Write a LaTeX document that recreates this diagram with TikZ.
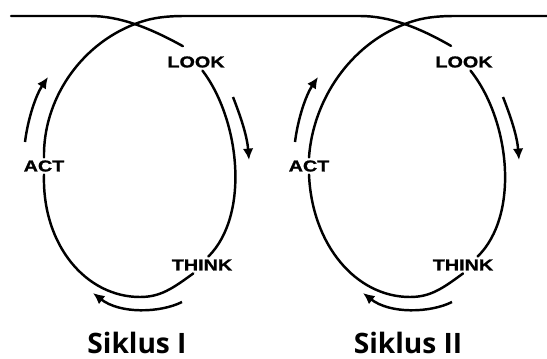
\documentclass[tikz,border=0pt]{standalone}
\usepackage{fontspec}
\newfontfamily\stepfont[FakeStretch=1.25,FakeBold=1.2,UprightFont={* Bold}]{Liberation Sans}
\newfontfamily\cyclefont{Open Sans}
\usetikzlibrary{arrows.meta}

\begin{document}
\begin{tikzpicture}[
    x=0.02cm, y=-0.02cm,
    loopline/.style = {
        line width=1.4pt,
        line cap=round
    },
    steplabel/.style = {
        inner sep=0pt,
        outer sep=0.06cm,
        font=\stepfont\fontsize{9}{9}\selectfont
    },
    turnarrow/.style = {
        line width=1.4pt,
        -{Latex[length=6.5pt, width=6pt]}
    },
    cyclename/.style = {
        anchor=base,
        inner sep=0pt,
        font=\cyclefont\bfseries\fontsize{16}{16}\selectfont
    }
]

\useasboundingbox (0,0) rectangle (547,358);

% --- Siklus I ---
\node[steplabel] (look1) at (196,62) {LOOK};
\node[steplabel] (think1) at (202,265) {THINK};
\node[steplabel] (act1) at (44,166) {ACT};
\node[cyclename] (siklus1) at (137,353) {Siklus I};

% --- Siklus II ---
\node[steplabel] (look2) at (464,62) {LOOK};
\node[steplabel] (think2) at (463,265) {THINK};
\node[steplabel] (act2) at (309,166) {ACT};
\node[cyclename] (siklus2) at (408,353) {Siklus II};

% --- Ends of the line ---
\coordinate (lineStart) at (11,16);
\coordinate (lineEnd) at (547,16);

% --- Loop I ---
\draw[loopline, shorten >=0.3cm] (lineStart) -- (90,16)
    .. controls (120,16) and (150,28) .. (look1.north);
\draw[loopline] (look1.-53) .. controls (240,120) and (250,215) .. (think1.53);
\draw[loopline] (think1.224) .. controls (172,289) and (160,297) .. (140,297)
    .. controls (86,297) and (42,245) .. (act1.south);

% --- Crossing into loop II ---
\draw[loopline, shorten >=0.3cm] (act1.north) .. controls (43,100) and (80,45) .. (135,24)
    .. controls (150,18) and (165,16) .. (185,16) -- (360,16)
    .. controls (390,16) and (420,28) .. (look2.north);

% --- Loop II ---
\draw[loopline] (look2.-53) .. controls (510,120) and (520,215) .. (think2.30);
\draw[loopline] (think2.south) .. controls (442,289) and (430,297) .. (410,297)
    .. controls (356,297) and (312,245) .. (act2.south);
\draw[loopline] (act2.north) .. controls (313,100) and (350,45) .. (405,24)
    .. controls (420,18) and (435,16) .. (455,16) -- (lineEnd);

% --- Arrows along the cycles ---
\coordinate (rise1) at (25,142);
\coordinate (fall1) at (233,97);
\coordinate (back1) at (182,302);
\coordinate (rise2) at (295,142);
\coordinate (fall2) at (503,97);
\coordinate (back2) at (452,302);

\draw[turnarrow] (rise1) .. controls (28,118) and (36,95) .. (48,77);
\draw[turnarrow] (fall1) .. controls (240,115) and (247,135) .. (249,160);
\draw[turnarrow] (back1) .. controls (160,313) and (120,314) .. (93,293);

\draw[turnarrow] (rise2) .. controls (298,118) and (306,95) .. (318,77);
\draw[turnarrow] (fall2) .. controls (510,115) and (517,135) .. (519,160);
\draw[turnarrow] (back2) .. controls (430,313) and (390,314) .. (363,293);

\end{tikzpicture}
\end{document}
